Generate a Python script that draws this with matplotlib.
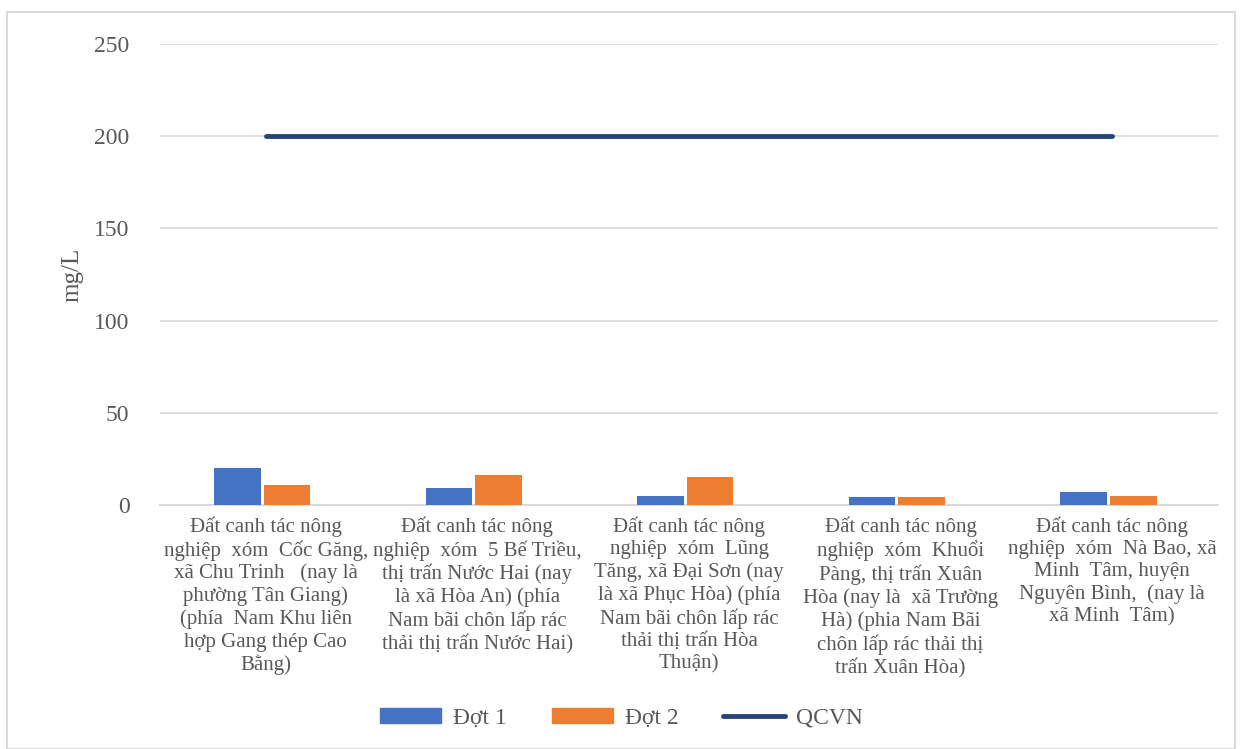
import matplotlib
matplotlib.use('Agg')
import matplotlib.pyplot as plt
from matplotlib.patches import Rectangle, Patch
from matplotlib.lines import Line2D
import numpy as np

plt.rcParams['font.family'] = ['Liberation Serif', 'DejaVu Serif']

categories = [
    "Đất canh tác nông\nnghiệp  xóm  Cốc Găng,\nxã Chu Trinh   (nay là\nphường Tân Giang)\n(phía  Nam Khu liên\nhợp Gang thép Cao\nBằng)",
    "Đất canh tác nông\nnghiệp  xóm  5 Bế Triều,\nthị trấn Nước Hai (nay\nlà xã Hòa An) (phía\nNam bãi chôn lấp rác\nthải thị trấn Nước Hai)",
    "Đất canh tác nông\nnghiệp  xóm  Lũng\nTăng, xã Đại Sơn (nay\nlà xã Phục Hòa) (phía\nNam bãi chôn lấp rác\nthải thị trấn Hòa\nThuận)",
    "Đất canh tác nông\nnghiệp  xóm  Khuổi\nPàng, thị trấn Xuân\nHòa (nay là  xã Trường\nHà) (phia Nam Bãi\nchôn lấp rác thải thị\ntrấn Xuân Hòa)",
    "Đất canh tác nông\nnghiệp  xóm  Nà Bao, xã\nMinh  Tâm, huyện\nNguyên Bình,  (nay là\nxã Minh  Tâm)",
]
dot1 = [20, 9.4, 4.9, 4.2, 7.2]
dot2 = [10.8, 16.3, 15.3, 4.2, 5.0]
qcvn = [200, 200, 200, 200, 200]

grey = '#595959'
fig = plt.figure(figsize=(12.43, 7.49), dpi=100)
fig.patches.append(Rectangle((7 / 1243, 0), 1228 / 1243, 1 - 12 / 749, transform=fig.transFigure,
                             fill=False, edgecolor='#D9D9D9', linewidth=1.5))

ax = fig.add_axes([160 / 1243, 1 - 505 / 749, 1058 / 1243, 461 / 749])
x = np.arange(len(categories))
w = 0.22
ax.bar(x - 0.135, dot1, w, color='#4472C4', zorder=3)
ax.bar(x + 0.1, dot2, w, color='#ED7D31', zorder=3)
ax.plot(x, qcvn, color='#264478', linewidth=3.5, zorder=4, solid_capstyle='round')

ax.set_xlim(-0.5, len(categories) - 0.5)
ax.set_ylim(0, 250)
ax.set_yticks([0, 50, 100, 150, 200, 250])
ax.grid(axis='y', color='#D9D9D9', linewidth=1.2, zorder=0)
for s in ['top', 'right', 'left']:
    ax.spines[s].set_visible(False)
ax.spines['bottom'].set_color('#D9D9D9')
ax.spines['bottom'].set_linewidth(1.5)
ax.tick_params(axis='y', length=0, pad=22, labelsize=17, labelcolor=grey)
ax.tick_params(axis='x', length=0, pad=8, labelsize=15, labelcolor=grey)
ax.set_xticks(x)
ax.set_xticklabels(categories, linespacing=1.22)
ax.set_ylabel('mg/L', fontsize=18, color=grey, labelpad=8)

handles = [Patch(color='#4472C4'), Patch(color='#ED7D31'),
           Line2D([], [], color='#264478', linewidth=3.5, solid_capstyle='round')]
fig.legend(handles, ['Đợt 1', 'Đợt 2', 'QCVN'], loc='center', ncol=3, frameon=False,
           bbox_to_anchor=(0.5, 1 - 718 / 749), fontsize=17, labelcolor=grey,
           handlelength=2.6, handleheight=0.6, handletextpad=0.5, columnspacing=1.9)

fig.savefig('out.png', dpi=100)
